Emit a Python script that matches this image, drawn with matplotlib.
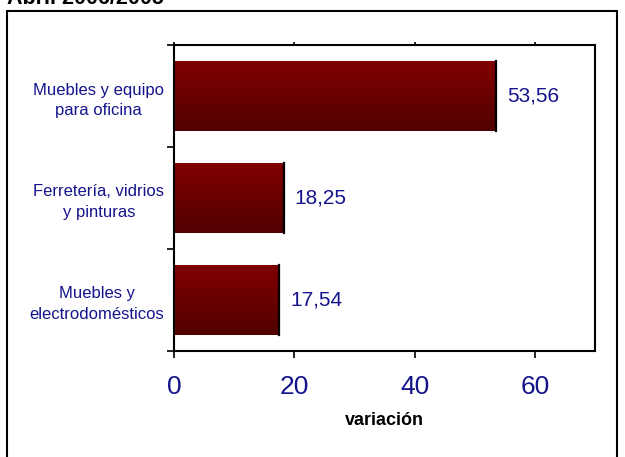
import numpy as np
import matplotlib
matplotlib.use("Agg")
import matplotlib.pyplot as plt
from matplotlib.colors import LinearSegmentedColormap
from matplotlib.patches import Rectangle

plt.rcParams["font.family"] = ["Liberation Sans", "DejaVu Sans"]

title = "Abril 2006/2005"
categories = ["Muebles y\nelectrodomésticos",
              "Ferretería, vidrios\ny pinturas",
              "Muebles y equipo\npara oficina"]
values = [17.54, 18.25, 53.56]
value_labels = ["17,54", "18,25", "53,56"]
xticks = [0, 20, 40, 60]

navy = "#14148c"

fig = plt.figure(figsize=(6.25, 4.57), dpi=100)
ax = fig.add_axes([0.2784, 0.232, 0.6736, 0.6695])

# outer frame + title cut off at the top, as in the source
fig.patches.append(Rectangle((7 / 625, -0.05), 610 / 625, 1 - 11 / 457 + 0.05,
                             transform=fig.transFigure, fill=False,
                             edgecolor="black", linewidth=1.5))
fig.text(7 / 625, 1 - 4 / 457, title, fontsize=15.5, fontweight="bold",
         va="baseline", ha="left")

y = np.arange(len(categories))
bars = ax.barh(y, values, height=0.69, color="none", edgecolor="none")

cmap = LinearSegmentedColormap.from_list("grad", ["#810000", "#520000"])
grad = np.linspace(0, 1, 256).reshape(-1, 1)
for b, v, lab in zip(bars, values, value_labels):
    x0, y0, w, h = b.get_x(), b.get_y(), b.get_width(), b.get_height()
    im = ax.imshow(grad, cmap=cmap, aspect="auto", origin="upper",
                   extent=[x0, x0 + w, y0, y0 + h], zorder=2)
    im.set_clip_path(b)
    ax.plot([x0 + w, x0 + w], [y0, y0 + h], color="black", linewidth=1.6, zorder=3)
    ax.text(v + 1.8, y0 + h / 2, lab, va="center", ha="left",
            fontsize=15, color=navy)

ax.set_xlim(0, 70)
ax.set_ylim(-0.5, len(categories) - 0.5)
ax.set_xticks(xticks)
ax.set_xticklabels([str(t) for t in xticks], fontsize=19, color=navy)
ax.set_yticks(y)
ax.set_yticklabels(categories, fontsize=12, color=navy,
                   multialignment="center", linespacing=1.45)
ax.set_yticks(np.arange(len(categories) + 1) - 0.5, minor=True)
ax.tick_params(axis="y", which="major", length=0, pad=7)
ax.tick_params(axis="y", which="minor", length=5, width=1.2, direction="out")
ax.tick_params(axis="x", which="major", length=5, width=1.2, direction="out", pad=12)
ax.tick_params(axis="x", top=True, which="major")
for t in ax.xaxis.get_major_ticks():
    t.tick2line.set_markersize(2)
    t.tick2line.set_color("#888888")
ax.set_xlabel("variación", fontsize=13, fontweight="bold", labelpad=10)
for s in ax.spines.values():
    s.set_linewidth(1.5)

fig.savefig("out.png", dpi=100)
